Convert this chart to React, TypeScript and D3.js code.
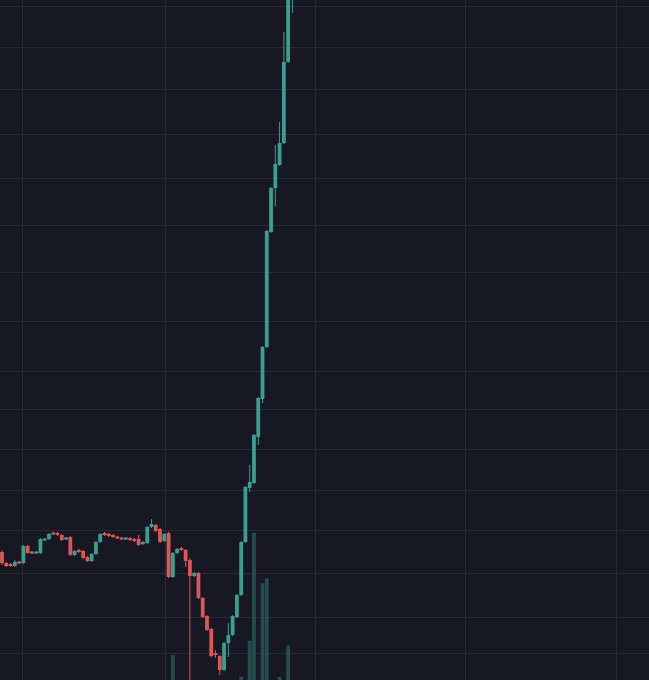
import React from 'react';
import { scaleLinear } from 'd3';

// candle OHLC (index = candle number)
const opens = [
  12.8, 11.7, 11.6, 11.4, 11.8, 11.7, 13.4, 12.8, 12.7, 12.7,
  14.0, 14.1, 14.7, 14.7, 14.5, 14.1, 14.3, 12.5, 13.0, 12.9,
  12.3, 11.9, 12.6, 13.8, 14.7, 14.6, 14.5, 14.3, 14.2, 14.1,
  14.2, 14.1, 14.1, 13.6, 13.7, 15.3, 15.5, 15.1, 13.9, 14.7,
  10.3, 12.7, 13.2, 13.0, 12.0, 10.4, 10.7, 8.2, 6.4, 5.1,
  2.7, 2.4, 1.0, 3.7, 4.5, 6.3, 8.5, 13.8, 19.2, 19.7,
  24.3, 28.1, 33.3, 44.8, 49.2, 51.5, 53.7, 61.8, 70.5,
];
const closes = [
  11.7, 11.4, 11.4, 11.8, 11.7, 13.4, 12.7, 12.7, 12.8, 14.1,
  14.1, 14.6, 14.6, 14.5, 14.0, 14.2, 12.5, 12.9, 12.8, 12.2,
  11.9, 12.6, 13.8, 14.6, 14.5, 14.4, 14.3, 14.2, 14.1, 14.2,
  14.0, 13.9, 13.5, 13.8, 15.3, 15.6, 14.9, 13.8, 14.6, 10.3,
  12.7, 13.1, 13.0, 11.9, 10.4, 10.7, 8.2, 6.3, 5.0, 2.4,
  2.5, 1.0, 3.7, 4.5, 6.4, 8.5, 13.8, 19.3, 19.8, 24.5,
  28.2, 33.3, 44.9, 49.2, 51.6, 53.7, 61.8, 70.5, 74.0,
];
const highs = [
  13.0, 11.8, 11.7, 12.0, 11.9, 13.5, 13.5, 12.9, 12.9, 14.2,
  14.2, 14.7, 14.8, 14.8, 14.6, 14.3, 14.4, 13.0, 13.1, 13.0,
  12.4, 12.7, 13.9, 14.7, 14.8, 14.7, 14.6, 14.4, 14.3, 14.3,
  14.3, 14.2, 14.5, 13.9, 15.4, 16.1, 15.6, 15.2, 14.7, 14.8,
  12.8, 13.2, 13.3, 13.1, 12.2, 10.8, 10.8, 8.3, 6.5, 5.2,
  3.0, 2.5, 3.8, 5.7, 6.5, 8.6, 13.9, 19.4, 21.5, 24.6,
  28.3, 33.4, 45.0, 49.3, 53.5, 55.8, 64.8, 72.0, 75.0,
];
const lows = [
  11.5, 11.3, 11.3, 11.3, 11.6, 11.6, 12.6, 12.6, 12.6, 12.6,
  13.9, 14.0, 14.5, 14.4, 13.9, 14.0, 12.4, 12.4, 12.7, 12.1,
  11.8, 11.8, 12.5, 13.7, 14.4, 14.3, 14.2, 14.1, 14.0, 14.0,
  13.9, 13.8, 13.4, 13.5, 13.6, 15.2, 14.8, 13.7, 13.8, 10.2,
  10.2, 12.6, 12.9, 11.3, -3.0, 10.3, 8.1, 6.2, 4.9, 2.3,
  2.2, 0.5, 0.9, 2.3, 4.4, 6.2, 8.4, 13.7, 18.8, 19.6,
  23.5, 27.7, 33.2, 44.7, 47.4, 51.4, 53.6, 61.7, 66.7,
];
const volumes = [
  6, 4, 3, 5, 3, 9, 6, 3, 3, 8,
  4, 7, 4, 3, 5, 3, 10, 6, 3, 6,
  4, 6, 9, 8, 4, 3, 3, 3, 3, 3,
  3, 4, 7, 4, 11, 7, 6, 9, 6, 15,
  27, 8, 5, 10, 14, 6, 12, 11, 10, 13,
  8, 12, 16, 10, 12, 14, 18, 15, 33, 78,
  12, 57, 59, 14, 13, 18, 15, 31, 12,
];

// grid positions (candle index / price)
const timeGrid = [4.7, 38.2, 73.3, 108.4, 143.8];
const priceGrid = [2.7, 6.3, 10.7, 15.0, 19.0, 23.1, 27.1, 30.9, 35.9, 40.8, 45.5, 50.2, 54.6, 59.1, 63.3, 67.4];

const W = 649;
const H = 680;
const UP = '#3b9f8f';
const DOWN = '#dc5656';
const VOL = '#254d4e';
const GRID = '#282a38';
const BG = '#171824';

const App: React.FC = () => {
  const x = scaleLinear().domain([0, 68]).range([2, 292.4]);
  const y = scaleLinear().domain([0, 68]).range([H, 0]);
  const v = scaleLinear().domain([0, 100]).range([720, 480]);
  const bw = 3.8;

  return (
    <div style={{ position: 'fixed', left: 0, top: 0, width: W, height: H, background: BG }}>
      <svg width={W} height={H} style={{ display: 'block' }}>
        <rect width={W} height={H} fill={BG} />
        <g shapeRendering="crispEdges">
          {priceGrid.map((p, i) => (
            <line key={'h' + i} x1={0} x2={W} y1={Math.round(y(p)) + 0.5} y2={Math.round(y(p)) + 0.5} stroke={GRID} />
          ))}
          {timeGrid.map((t, i) => (
            <line key={'v' + i} y1={0} y2={H} x1={Math.round(x(t)) + 0.5} x2={Math.round(x(t)) + 0.5} stroke={GRID} />
          ))}
        </g>
        <g>
          {volumes.map((vol, i) => (
            <rect key={'vol' + i} x={x(i) - bw / 2} width={bw} y={v(vol)} height={v(0) - v(vol)} fill={VOL} />
          ))}
        </g>
        <g>
          {opens.map((o, i) => {
            const c = closes[i];
            const col = c >= o ? UP : DOWN;
            const top = y(Math.max(o, c));
            const bot = y(Math.min(o, c));
            const h = Math.max(2, bot - top);
            return (
              <g key={'c' + i}>
                <line x1={x(i)} x2={x(i)} y1={y(highs[i])} y2={y(lows[i])} stroke={col} strokeWidth={1} />
                <rect x={x(i) - bw / 2} width={bw} y={(top + bot) / 2 - h / 2} height={h} fill={col} />
              </g>
            );
          })}
        </g>
      </svg>
    </div>
  );
};

export default App;
